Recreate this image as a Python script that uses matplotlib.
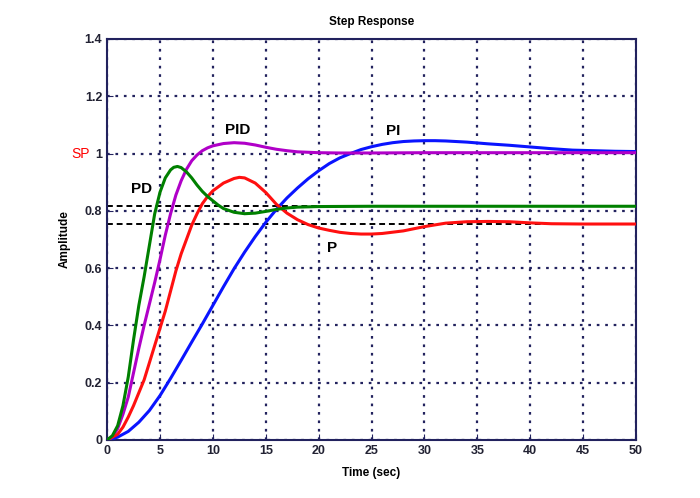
import matplotlib
matplotlib.use('Agg')
import matplotlib.pyplot as plt
import matplotlib.transforms as mtransforms

plt.rcParams['font.family'] = ['Liberation Sans', 'DejaVu Sans']

# * data (time in sec, amplitude)
t_p = [0, 1, 1.5, 2, 2.5, 3, 3.5, 4, 4.5, 5, 5.5, 6, 6.5, 7, 7.5, 8, 8.5, 9, 9.5, 10, 11, 12, 12.5, 13,
       14, 15, 16, 17, 18, 19, 20, 21, 22, 23, 24, 25, 26, 28, 30, 32, 34, 36, 38, 40, 42, 45, 50]
y_p = [0, 0.02, 0.045, 0.08, 0.12, 0.165, 0.21, 0.27, 0.33, 0.39, 0.45, 0.52, 0.59, 0.65, 0.70, 0.75,
       0.79, 0.825, 0.85, 0.87, 0.897, 0.913, 0.917, 0.915, 0.897, 0.864, 0.823, 0.792, 0.769, 0.752,
       0.74, 0.732, 0.725, 0.721, 0.719, 0.719, 0.721, 0.73, 0.745, 0.757, 0.762, 0.763, 0.762,
       0.758, 0.755, 0.754, 0.754]

t_pd = [0, 0.5, 1, 1.5, 2, 2.5, 3, 3.5, 4, 4.5, 5, 5.5, 6, 6.3, 6.65, 7, 7.5, 8, 8.5, 9, 9.5, 10,
        10.5, 11, 12, 13, 14, 15, 16, 17, 18, 20, 25, 50]
y_pd = [0, 0.015, 0.05, 0.12, 0.22, 0.35, 0.47, 0.57, 0.68, 0.79, 0.865, 0.915, 0.943, 0.952, 0.955,
        0.951, 0.936, 0.915, 0.89, 0.868, 0.85, 0.835, 0.82, 0.808, 0.795, 0.79, 0.792, 0.798, 0.805,
        0.81, 0.813, 0.815, 0.816, 0.816]

t_pi = [0, 1, 2, 3, 4, 5, 6, 7, 8, 9, 10, 11, 12, 13, 14, 15, 16, 17, 18, 19, 20, 21, 22, 23, 24,
        25, 26, 27, 28, 29, 30, 31, 32, 33, 34, 35, 36, 38, 40, 42, 44, 46, 48, 50]
y_pi = [0, 0.01, 0.03, 0.062, 0.103, 0.155, 0.215, 0.278, 0.342, 0.405, 0.47, 0.535, 0.598, 0.656,
        0.71, 0.76, 0.805, 0.845, 0.88, 0.912, 0.94, 0.965, 0.985, 1.0, 1.014, 1.024, 1.032, 1.038,
        1.042, 1.044, 1.045, 1.045, 1.044, 1.042, 1.04, 1.037, 1.034, 1.029, 1.023, 1.017, 1.012,
        1.01, 1.008, 1.007]

t_pid = [0, 0.5, 1, 1.5, 2, 2.5, 3, 3.5, 4, 4.5, 5, 5.5, 6, 6.5, 7, 7.5, 8, 8.5, 9, 9.5, 10, 11, 12,
         13, 14, 15, 16, 17, 18, 20, 22, 25, 30, 40, 50]
y_pid = [0, 0.01, 0.04, 0.09, 0.15, 0.235, 0.32, 0.40, 0.475, 0.55, 0.63, 0.715, 0.79, 0.855, 0.905,
         0.945, 0.975, 0.995, 1.01, 1.02, 1.027, 1.035, 1.038, 1.036, 1.03, 1.022, 1.015, 1.01,
         1.006, 1.003, 1.002, 1.002, 1.003, 1.003, 1.003]

ref_levels = [0.816, 0.754]
curve_labels = ['P', 'PD', 'PI', 'PID']
label_xy = [(21.3, 0.67), (3.3, 0.875), (27.0, 1.078), (12.3, 1.083)]

navy = '#22225e'

fig = plt.figure(figsize=(7.0, 4.98), dpi=100)
ax = fig.add_axes([0.153, 0.1165, 0.7557, 0.8052])

for lvl in ref_levels:
  ax.axhline(lvl, color='black', linestyle=(0, (3, 2)), linewidth=1.4, zorder=1)

ax.plot(t_pi, y_pi, color='#0a14ff', linewidth=2.2, zorder=3)
ax.plot(t_pid, y_pid, color='#b000c8', linewidth=2.2, zorder=3)
ax.plot(t_p, y_p, color='#ff1010', linewidth=2.2, zorder=3)
ax.plot(t_pd, y_pd, color='#008000', linewidth=2.2, zorder=3)

for name, (tx, ty) in zip(curve_labels, label_xy):
  ax.text(tx, ty, name, fontsize=11, fontweight='bold', color='black',
    ha='center', va='center', zorder=4)

ax.set_xlim(0, 50)
ax.set_ylim(0, 1.4)
ax.set_xticks(range(0, 51, 5))
ax.set_yticks([0, 0.2, 0.4, 0.6, 0.8, 1.0, 1.2, 1.4])
ax.set_yticklabels(['0', '0.2', '0.4', '0.6', '0.8', '1', '1.2', '1.4'])
ax.grid(True, color=navy, linestyle=(0, (1.2, 2.6)), linewidth=1.6)
ax.tick_params(direction='in', length=4, color=navy, labelsize=9, labelcolor='#222233')
for lab in ax.get_xticklabels() + ax.get_yticklabels():
  lab.set_fontweight('bold')
for sp in ax.spines.values():
  sp.set_color(navy)
  sp.set_linewidth(1.5)

# SP marker next to the "1" tick label
trans = mtransforms.blended_transform_factory(ax.transAxes, ax.transData)
ax.text(-0.032, 1.0, 'SP', color='#ff0000', fontsize=10, ha='right', va='center', transform=trans)

ax.set_title('Step Response', fontsize=8.5, fontweight='bold', pad=10)
ax.set_xlabel('Time (sec)', fontsize=8.5, fontweight='bold', labelpad=7)
ax.set_ylabel('Amplitude', fontsize=8.5, fontweight='bold', labelpad=10)

plt.savefig('out.png', dpi=100)
